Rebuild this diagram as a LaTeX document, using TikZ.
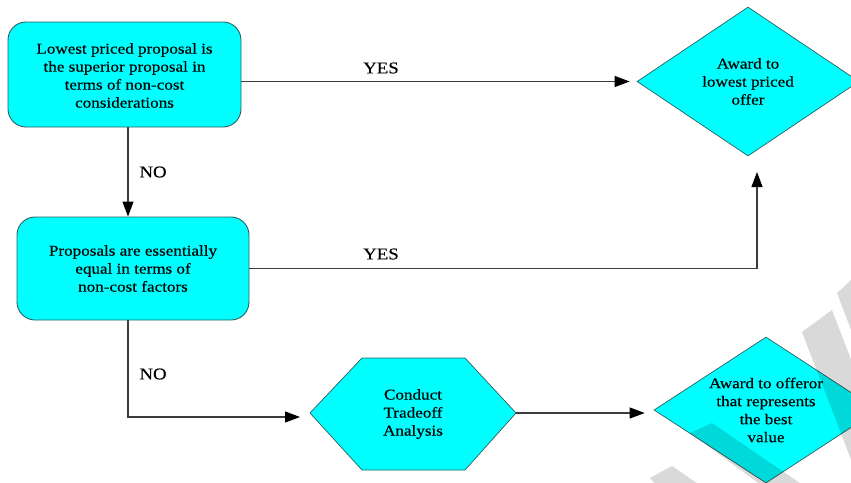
\documentclass[tikz,border=0pt]{standalone}
\usepackage{fontspec}
\setmainfont{Liberation Serif}[FakeStretch=1.14,FakeBold=0.3]
\usetikzlibrary{shapes.geometric,arrows.meta}
\definecolor{cy}{RGB}{0,255,255}
\definecolor{bd}{RGB}{45,95,95}
\definecolor{ln}{RGB}{60,60,60}
\begin{document}
\begin{tikzpicture}[x=1pt,y=-1pt,
 rbox/.style={draw=bd,fill=cy,rounded corners=18pt,line width=0.9pt,inner sep=0pt},
 dmd/.style={diamond,draw=bd,fill=cy,line width=0.7pt,inner sep=0pt},
 txt/.style={align=center,font=\fontsize{15}{18}\selectfont,inner sep=0pt},
 lbl/.style={font=\fontsize{16.5}{18}\selectfont,inner sep=0pt},
 arr/.style={draw=ln,line width=1.1pt,-{Triangle[length=15pt,width=11pt,color=black]}},
 wm/.style={fill=black,opacity=0.15}]
\useasboundingbox (0,0) rectangle (851,482);
\clip (0,0) rectangle (851,482);
\fill[white] (0,0) rectangle (851,482);
% shapes
\node[rbox,minimum width=233pt,minimum height=105pt] (b1) at (124.5,74.5) {};
\node[txt] at ([yshift=-1pt]b1.center) {Lowest priced proposal is\\the superior proposal in\\terms of non-cost\\considerations};
\node[rbox,minimum width=232pt,minimum height=103pt] (b2) at (133,268.5) {};
\node[txt] at (b2) {Proposals are essentially\\equal in terms of\\non-cost factors};
\node[dmd,minimum width=222pt,minimum height=149pt] (d1) at (748,81.5) {};
\node[txt] at (d1) {Award to\\lowest priced\\offer};
\node[dmd,minimum width=224pt,minimum height=146pt] (d2) at (766,410) {};
\node[txt] at (d2) {Award to offeror\\that represents\\the best\\value};
\coordinate (hxw) at (310,413);
\coordinate (hxe) at (516,413);
\draw[draw=bd,fill=cy,line width=0.7pt] (hxw) -- (362,358) -- (465,358) -- (hxe) -- (465,470) -- (362,470) -- cycle;
\node[txt] (hx) at (413,414) {Conduct\\Tradeoff\\Analysis};
% connectors
\coordinate (nox) at (128,0);
\coordinate (up) at (757,172);
\coordinate (hxin) at (300,417);
\draw[arr] (b1.south -| nox) -- (b2.north -| nox);
\node[lbl] at (153,172) {NO};
\draw[arr,shorten >=7pt] (b1.east |- d1.west) -- (d1.west);
\node[lbl] at (381,68) {YES};
\draw[arr] (b2.east) -| (up);
\node[lbl] at (381,254) {YES};
\draw[arr] (b2.south -| nox) |- (hxin);
\node[lbl] at (153,374) {NO};
\draw[arr,shorten >=9pt] (hxe) -- (hxe -| d2.west);
% watermark
\fill[wm] (837,293) -- (851,280) -- (870,330) -- (856,343) -- cycle;
\fill[wm] (802,332) -- (832,310) -- (892,466) -- (862,488) -- cycle;
\fill[wm] (690,433) -- (712,423) -- (810,490) -- (768,490) -- cycle;
\fill[wm] (650,478) -- (672,466) -- (707,490) -- (661,490) -- cycle;
\end{tikzpicture}
\end{document}
